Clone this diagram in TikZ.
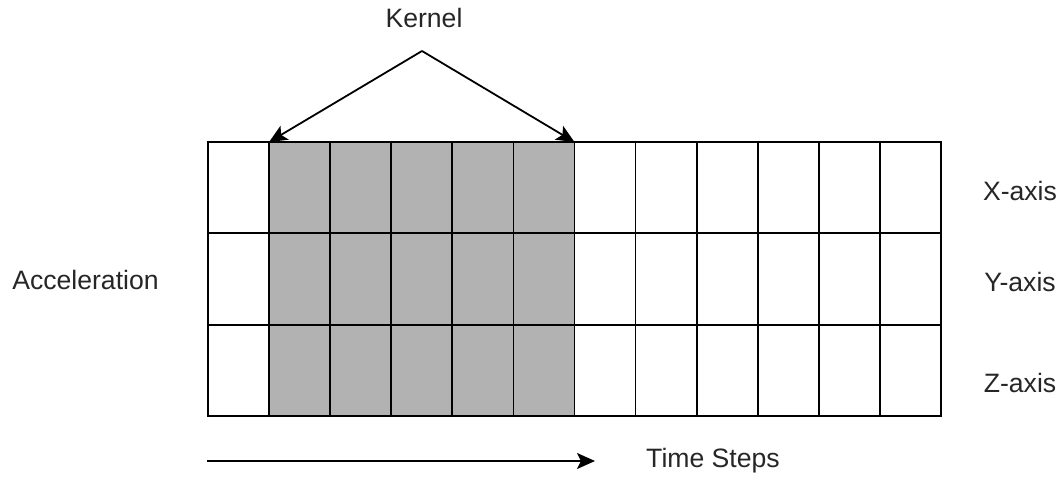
\documentclass[tikz,border=0pt]{standalone}
\usepackage{fontspec}
\setmainfont{Liberation Sans}
\usetikzlibrary{arrows.meta}
\begin{document}
\begin{tikzpicture}[x=1pt,y=-1pt,
  lbl/.style={inner sep=0pt, font=\fontsize{26.6}{30}\selectfont, text=black!85},
  cell/.style={minimum width=61.08pt, minimum height=91.33pt, inner sep=0pt, outer sep=0pt, fill=white},
  kcell/.style={cell, fill=gray!60},
  border/.style={draw=black, line width=1.8pt},
  arr/.style={draw=black, line width=1.8pt, -{Stealth[length=18pt,width=16pt,inset=4pt]}}]
\useasboundingbox (0,0) rectangle (1063,477);
\foreach \r in {1,2,3}{
  \foreach \c in {1,...,12}{
    \pgfmathsetmacro{\cx}{208+61.08*(\c-0.5)}
    \pgfmathsetmacro{\cy}{142+91.33*(\r-0.5)}
    \ifnum\c>1 \ifnum\c<7
      \node[kcell] (c-\r-\c) at (\cx,\cy) {};
    \else
      \node[cell] (c-\r-\c) at (\cx,\cy) {};
    \fi \else
      \node[cell] (c-\r-\c) at (\cx,\cy) {};
    \fi
  }
}
\foreach \r in {1,2,3}{
  \foreach \c in {1,...,12}{
    \draw[border] (c-\r-\c.north west) rectangle (c-\r-\c.south east);
  }
}
\node[lbl] (kernel) at (424,18) {Kernel};
\coordinate (apex) at (422,51);
\draw[arr] (apex) -- (c-1-2.north west);
\draw[arr] (apex) -- (c-1-6.north east);
\node[lbl] (accel) at (85.5,280) {Acceleration};
\node[lbl] (xaxis) at (1020,191) {X-axis};
\node[lbl] (yaxis) at (1020,282) {Y-axis};
\node[lbl] (zaxis) at (1020,383) {Z-axis};
\coordinate (tstart) at (207,461);
\coordinate (tend) at (595,461);
\draw[arr] (tstart) -- (tend);
\node[lbl] (time) at (713,461) {Time Steps};
\end{tikzpicture}
\end{document}
